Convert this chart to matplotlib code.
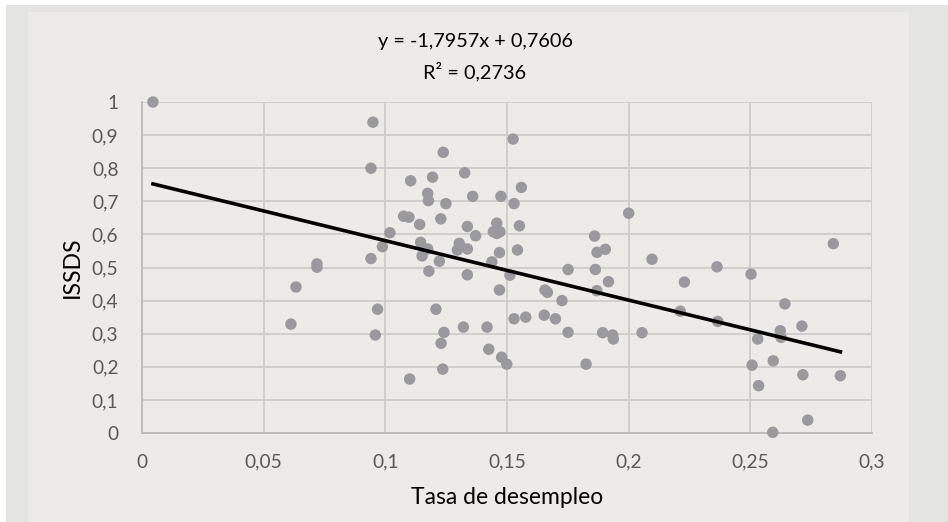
import matplotlib.pyplot as plt
from matplotlib.patches import Rectangle

# unemployment rate vs ISSDS
tasa = [0.0045, 0.0633, 0.0612, 0.0719, 0.0719, 0.0949, 0.0941, 0.1525, 0.1238, 0.1104,
        0.1194, 0.1326, 0.1559, 0.1174, 0.1177, 0.1249, 0.1359, 0.1475, 0.1529, 0.1075,
        0.1097, 0.1228, 0.1141, 0.1337, 0.1551, 0.1458, 0.1444, 0.1471, 0.1458, 0.1371,
        0.1019, 0.0988, 0.0941, 0.1145, 0.1174, 0.1151, 0.1222, 0.1179, 0.1304, 0.1296,
        0.1337, 0.1337, 0.1469, 0.1438, 0.1543, 0.1469, 0.1512, 0.1751, 0.1860, 0.1870,
        0.1904, 0.1863, 0.1917, 0.1656, 0.1666, 0.1726, 0.1869, 0.2000, 0.2096, 0.2229,
        0.2363, 0.2503, 0.2841, 0.2642, 0.2712, 0.2623, 0.2626, 0.2530, 0.2366, 0.2212,
        0.2055, 0.1893, 0.1934, 0.1937, 0.2507, 0.2594, 0.2716, 0.2870, 0.2534, 0.2736,
        0.2592, 0.0968, 0.0959, 0.1208, 0.1241, 0.1229, 0.1236, 0.1100, 0.1321, 0.1418,
        0.1425, 0.1478, 0.1499, 0.1529, 0.1577, 0.1653, 0.1699, 0.1751, 0.1825]
issds = [1.000, 0.441, 0.329, 0.511, 0.501, 0.939, 0.800, 0.888, 0.848, 0.762,
         0.773, 0.786, 0.742, 0.724, 0.702, 0.693, 0.715, 0.715, 0.693, 0.655,
         0.652, 0.647, 0.630, 0.624, 0.626, 0.634, 0.608, 0.608, 0.603, 0.596,
         0.605, 0.563, 0.527, 0.576, 0.556, 0.535, 0.519, 0.489, 0.573, 0.553,
         0.556, 0.478, 0.545, 0.517, 0.553, 0.432, 0.477, 0.494, 0.595, 0.546,
         0.555, 0.494, 0.457, 0.432, 0.425, 0.400, 0.430, 0.664, 0.525, 0.456,
         0.502, 0.480, 0.572, 0.390, 0.323, 0.309, 0.289, 0.284, 0.337, 0.368,
         0.303, 0.303, 0.296, 0.284, 0.205, 0.218, 0.176, 0.173, 0.143, 0.039,
         0.002, 0.374, 0.296, 0.374, 0.304, 0.271, 0.193, 0.163, 0.320, 0.320,
         0.253, 0.229, 0.208, 0.345, 0.350, 0.356, 0.345, 0.304, 0.208]

slope = -1.7957
intercept = 0.7606
r2 = 0.2736

xticks = [0, 0.05, 0.1, 0.15, 0.2, 0.25, 0.3]
xticklabels = ["0", "0,05", "0,1", "0,15", "0,2", "0,25", "0,3"]
yticks = [0, 0.1, 0.2, 0.3, 0.4, 0.5, 0.6, 0.7, 0.8, 0.9, 1]
yticklabels = ["0", "0,1", "0,2", "0,3", "0,4", "0,5", "0,6", "0,7", "0,8", "0,9", "1"]

plt.rcParams['font.family'] = ['Lato', 'DejaVu Sans']

W, H = 948, 522
fig = plt.figure(figsize=(W / 100, H / 100), dpi=100, facecolor='white')
# outer frame and inner panel, behind the axes
fig.add_artist(Rectangle((6 / W, 0), 1 - 6 / W, 1 - 5 / H, transform=fig.transFigure,
                         facecolor='#e4e4e3', edgecolor='none', zorder=-2))
fig.add_artist(Rectangle((28 / W, 0), (909 - 28) / W, 1 - 12 / H, transform=fig.transFigure,
                         facecolor='#edebe7', edgecolor='none', zorder=-1))

ax = fig.add_axes([142 / W, (H - 433) / H, 730 / W, 331 / H])
ax.set_facecolor('#edebe7')

ax.scatter(tasa, issds, s=68, color='#9a999d', edgecolors='none', zorder=3, clip_on=False)

x0, x1 = min(tasa), max(tasa)
ax.plot([x0, x1], [slope * x0 + intercept, slope * x1 + intercept], color='black', lw=2.6, zorder=4)

ax.set_xlim(0, 0.3)
ax.set_ylim(0, 1)
ax.set_xticks(xticks)
ax.set_xticklabels(xticklabels)
ax.set_yticks(yticks)
ax.set_yticklabels(yticklabels)
ax.tick_params(length=0, labelsize=13.8, labelcolor='#595959')
ax.tick_params(axis='x', pad=15)
ax.tick_params(axis='y', pad=17)
ax.grid(True, color='#d0cfcd', lw=1.4, zorder=0)
ax.set_axisbelow(True)
for side in ['top', 'right']:
    ax.spines[side].set_visible(False)
for side in ['left', 'bottom']:
    ax.spines[side].set_color('#bdbcbb')
    ax.spines[side].set_linewidth(1.4)

ax.set_xlabel("Tasa de desempleo", fontsize=16.5, color='black', va='center')
ax.set_ylabel("ISSDS", fontsize=16.5, color='black', va='center')
ax.xaxis.set_label_coords(0.5, (433 - 498) / 331)
ax.yaxis.set_label_coords((72 - 142) / 730, 0.5)

fig.text(475 / W, 1 - 42 / H, "y = -1,7957x + 0,7606", ha='center', va='center', fontsize=14.3)
fig.text(475 / W, 1 - 72 / H, "R² = 0,2736", ha='center', va='center', fontsize=14.3)

fig.savefig("out.png", dpi=100)
